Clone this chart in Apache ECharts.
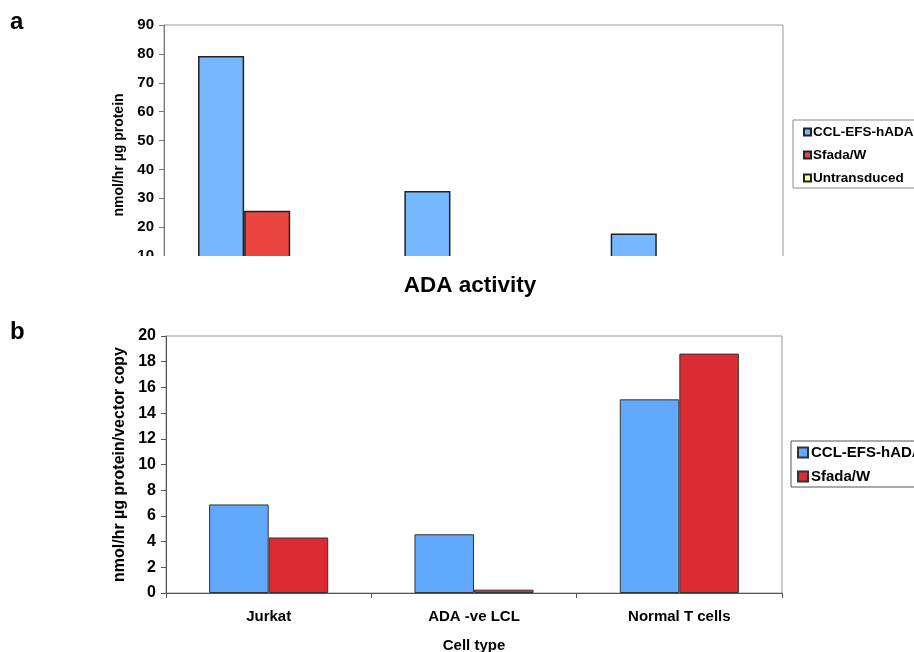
<!DOCTYPE html>
<html>
<head>
<meta charset="utf-8">
<script src="https://cdn.jsdelivr.net/npm/echarts@6/dist/echarts.min.js"></script>
<style>
html,body{margin:0;padding:0;background:#fff;width:914px;height:652px;overflow:hidden;}
#wrapA{position:absolute;left:0;top:0;width:914px;height:256px;overflow:hidden;}
#chartA{position:absolute;left:0;top:0;width:914px;height:320px;}
#chartB{position:absolute;left:0;top:256px;width:914px;height:396px;}
</style>
</head>
<body>
<div id="wrapA"><div id="chartA"></div></div>
<div id="chartB"></div>
<script>
// ---- data ----
const categories = ['Jurkat', 'ADA -ve LCL', 'Normal T cells'];
// Panel a: ADA activity (nmol/hr µg protein); values below 10 are cropped in the original
const aCCL = [79.3, 32.5, 17.8];
const aSfada = [25.7, 1.0, 5.0];
const aUntransduced = [3.0, 0.5, 4.0];
const aTicks = [0, 10, 20, 30, 40, 50, 60, 70, 80, 90];
// Panel b: per vector copy
const bCCL = [6.89, 4.57, 15.07];
const bSfada = [4.32, 0.26, 18.63];
const bTicks = [0, 2, 4, 6, 8, 10, 12, 14, 16, 18, 20];

const FONT = 'Liberation Sans, Arial, sans-serif';

// ---- panel a ----
const chartA = echarts.init(document.getElementById('chartA'), null, {renderer: 'canvas'});
chartA.setOption({
  animation: false,
  backgroundColor: '#fff',
  graphic: [{type: 'text', left: 10, top: 10, style: {text: 'a', font: 'bold 24px ' + FONT, fill: '#000'}}],
  legend: {
    orient: 'vertical', left: 793, top: 120,
    padding: [5, 60, 3, 10], itemGap: 9,
    itemWidth: 7, itemHeight: 7, icon: 'rect',
    borderColor: '#888', borderWidth: 1,
    textStyle: {fontFamily: FONT, fontWeight: 'bold', fontSize: 13.5, color: '#000', padding: [0, 0, 0, -3]},
    data: ['CCL-EFS-hADA', 'Sfada/W', 'Untransduced']
  },
  grid: {left: 164, right: 131, top: 25, bottom: 35, show: true, borderColor: '#999', borderWidth: 1, outerBoundsMode: 'none'},
  xAxis: {
    type: 'category', data: categories,
    axisLine: {lineStyle: {color: '#666'}}, axisTick: {show: false}, axisLabel: {show: false}
  },
  yAxis: {
    type: 'value', min: aTicks[0], max: aTicks[aTicks.length - 1], interval: 10,
    name: 'nmol/hr µg protein', nameLocation: 'middle', nameGap: 34,
    nameTextStyle: {fontFamily: FONT, fontWeight: 'bold', fontSize: 14, color: '#000'},
    axisLine: {show: true, lineStyle: {color: '#777'}},
    axisTick: {show: true, length: 5, lineStyle: {color: '#777'}},
    axisLabel: {fontFamily: FONT, fontWeight: 'bold', fontSize: 15, color: '#000', margin: 10},
    splitLine: {show: false}
  },
  series: [
    {name: 'CCL-EFS-hADA', type: 'bar', data: aCCL, barGap: '0%', barCategoryGap: '33%',
     itemStyle: {color: '#76b8ff', borderColor: '#222', borderWidth: 1.5}},
    {name: 'Sfada/W', type: 'bar', data: aSfada,
     itemStyle: {color: '#e84540', borderColor: '#222', borderWidth: 1.5}},
    {name: 'Untransduced', type: 'bar', data: aUntransduced,
     itemStyle: {color: '#ffff99', borderColor: '#222', borderWidth: 1.5}}
  ]
});

// ---- panel b ----
const chartB = echarts.init(document.getElementById('chartB'), null, {renderer: 'canvas'});
chartB.setOption({
  animation: false,
  backgroundColor: '#fff',
  graphic: [
    {type: 'text', x: 470, y: 30, style: {text: 'ADA activity', font: 'bold 22.5px ' + FONT, fill: '#000', align: 'center', verticalAlign: 'middle'}},
    {type: 'text', left: 10, top: 64, style: {text: 'b', font: 'bold 24px ' + FONT, fill: '#000'}}
  ],
  legend: {
    orient: 'vertical', left: 791, top: 185,
    padding: [4, 60, 3, 6], itemGap: 9,
    itemWidth: 10, itemHeight: 10, icon: 'rect',
    borderColor: '#555', borderWidth: 1,
    textStyle: {fontFamily: FONT, fontWeight: 'bold', fontSize: 15, color: '#000', padding: [0, 0, 0, -2]},
    data: ['CCL-EFS-hADA', 'Sfada/W']
  },
  grid: {left: 166, right: 132, top: 80, bottom: 59, show: true, borderColor: '#999', borderWidth: 1, outerBoundsMode: 'none'},
  xAxis: {
    type: 'category', data: categories,
    name: 'Cell type', nameLocation: 'middle', nameGap: 45,
    nameTextStyle: {fontFamily: FONT, fontWeight: 'bold', fontSize: 15, color: '#000'},
    axisLine: {lineStyle: {color: '#555'}},
    axisTick: {show: true, length: 5, lineStyle: {color: '#555'}},
    axisLabel: {fontFamily: FONT, fontWeight: 'bold', fontSize: 15, color: '#000', margin: 16}
  },
  yAxis: {
    type: 'value', min: bTicks[0], max: bTicks[bTicks.length - 1], interval: 2,
    name: 'nmol/hr µg protein/vector copy', nameLocation: 'middle', nameGap: 33,
    nameTextStyle: {fontFamily: FONT, fontWeight: 'bold', fontSize: 16, color: '#000'},
    axisLine: {show: true, lineStyle: {color: '#555'}},
    axisTick: {show: true, length: 5, lineStyle: {color: '#555'}},
    axisLabel: {fontFamily: FONT, fontWeight: 'bold', fontSize: 16, color: '#000', margin: 10},
    splitLine: {show: false}
  },
  series: [
    {name: 'CCL-EFS-hADA', type: 'bar', data: bCCL, barGap: '0%', barCategoryGap: '42%',
     itemStyle: {color: '#63a8ff', borderColor: '#333', borderWidth: 1}},
    {name: 'Sfada/W', type: 'bar', data: bSfada,
     itemStyle: {color: '#dc2c33', borderColor: '#333', borderWidth: 1}}
  ]
});
</script>
</body>
</html>
